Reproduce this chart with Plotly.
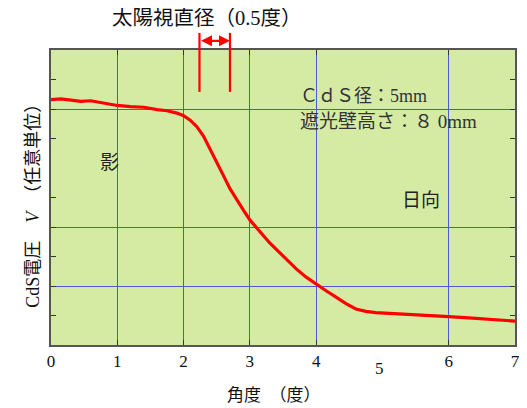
import plotly.graph_objects as go

# ---- data ----
angle = [0, 0.15, 0.3, 0.45, 0.6, 0.75, 0.9, 1.0, 1.2, 1.4, 1.6, 1.75, 1.9, 2.0,
         2.1, 2.2, 2.3, 2.4, 2.5, 2.6, 2.7, 2.8, 2.9, 3.0, 3.15, 3.3, 3.5, 3.7,
         3.85, 4.0, 4.15, 4.3, 4.45, 4.6, 4.75, 4.9, 5.1, 5.4, 5.7, 6.0, 6.3,
         6.6, 7.0]
voltage = [8.32, 8.34, 8.30, 8.26, 8.28, 8.22, 8.18, 8.12, 8.08, 8.06, 7.98,
           7.94, 7.86, 7.77, 7.62, 7.40, 7.08, 6.65, 6.20, 5.75, 5.30, 4.92,
           4.58, 4.24, 3.84, 3.46, 3.02, 2.58, 2.30, 2.06, 1.84, 1.62, 1.40,
           1.22, 1.14, 1.10, 1.07, 1.03, 1.00, 0.96, 0.92, 0.87, 0.81]

x_tickvals = [0, 1, 2, 3, 4, 6, 7]
x_ticktext = ["0", "1", "2", "3", "4", "6", "7"]
y_major = [2, 4, 8]
y_minor = [1, 3, 5, 7, 9]
sun_span = [2.24, 2.70]   # apparent solar diameter marker (0.5 deg)

FONT_MIX = "Liberation Serif, Noto Sans CJK JP"
CJK = "Noto Sans CJK JP, Liberation Serif"
GRID = "#4c5cd8"

fig = go.Figure()
fig.add_trace(go.Scatter(x=angle, y=voltage, mode="lines",
                         line=dict(color="#ff0000", width=3.2),
                         showlegend=False, hoverinfo="skip"))

# page body has an 8px default margin -> compensate
fig.update_layout(
    width=519, height=400,
    margin=dict(l=43, r=7, t=42, b=63),
    paper_bgcolor="white",
    plot_bgcolor="#d5eba4",
    xaxis=dict(range=[0, 7], tickvals=x_tickvals, ticktext=x_ticktext,
               ticks="inside", ticklen=5, tickcolor="#333", tickwidth=1,
               showgrid=True, gridcolor=GRID, gridwidth=1,
               showline=True, linecolor="#555", linewidth=1.5, mirror="ticks",
               zeroline=False,
               tickfont=dict(family="Liberation Serif", size=17, color="#111")),
    yaxis=dict(range=[0, 10], tickvals=y_major, showticklabels=False,
               ticks="inside", ticklen=5, tickcolor="#333", tickwidth=1,
               showgrid=True, gridcolor=GRID, gridwidth=1,
               showline=True, linecolor="#555", linewidth=1.5, mirror="ticks",
               zeroline=False,
               minor=dict(tickvals=y_minor, ticks="inside", ticklen=5,
                          tickcolor="#333", showgrid=False)),
)

# solar diameter marker lines
for xv in sun_span:
    fig.add_shape(type="line", xref="x", yref="paper", x0=xv, x1=xv,
                  y0=0.858, y1=1.058, line=dict(color="#ff0000", width=2.2))
fig.add_annotation(x=sun_span[1], y=1.031, xref="x", yref="paper",
                   ax=sun_span[0], ay=0, axref="x", ayref="pixel",
                   showarrow=True, arrowhead=2, arrowside="end+start",
                   arrowsize=1, arrowwidth=2.2, arrowcolor="#ff0000", text="")

annots = [
    dict(text="太陽視直径（0.5度）", x=0.337, y=1.108, xref="paper", yref="paper",
         font=dict(family=FONT_MIX, size=20.5, color="#111")),
    dict(text="ＣｄＳ径：5mm", x=3.73, y=8.44, xref="x", yref="y", xanchor="left",
         font=dict(family=FONT_MIX, size=18, color="#333")),
    dict(text="遮光壁高さ：８ 0mm", x=3.73, y=7.56, xref="x", yref="y", xanchor="left",
         font=dict(family=FONT_MIX, size=19, color="#333")),
    dict(text="影", x=0.88, y=6.25, xref="x", yref="y",
         font=dict(family=CJK, size=19, color="#222")),
    dict(text="日向", x=5.58, y=4.98, xref="x", yref="y",
         font=dict(family=CJK, size=19, color="#222")),
    dict(text="5", x=4.96, y=-0.081, xref="x", yref="paper",
         font=dict(family="Liberation Serif", size=17, color="#111")),
    dict(text="角度　（度）", x=0.48, y=-0.17, xref="paper", yref="paper",
         font=dict(family=FONT_MIX, size=17, color="#111")),
    dict(text="CdS電圧　<i>V</i>　（任意単位）", x=-0.0405, y=0.486, xref="paper",
         yref="paper", textangle=-90,
         font=dict(family=FONT_MIX, size=18, color="#111")),
]
for a in annots:
    a.setdefault("xanchor", "center")
    a.setdefault("yanchor", "middle")
    fig.add_annotation(showarrow=False, **a)

fig.write_html("out.html")
